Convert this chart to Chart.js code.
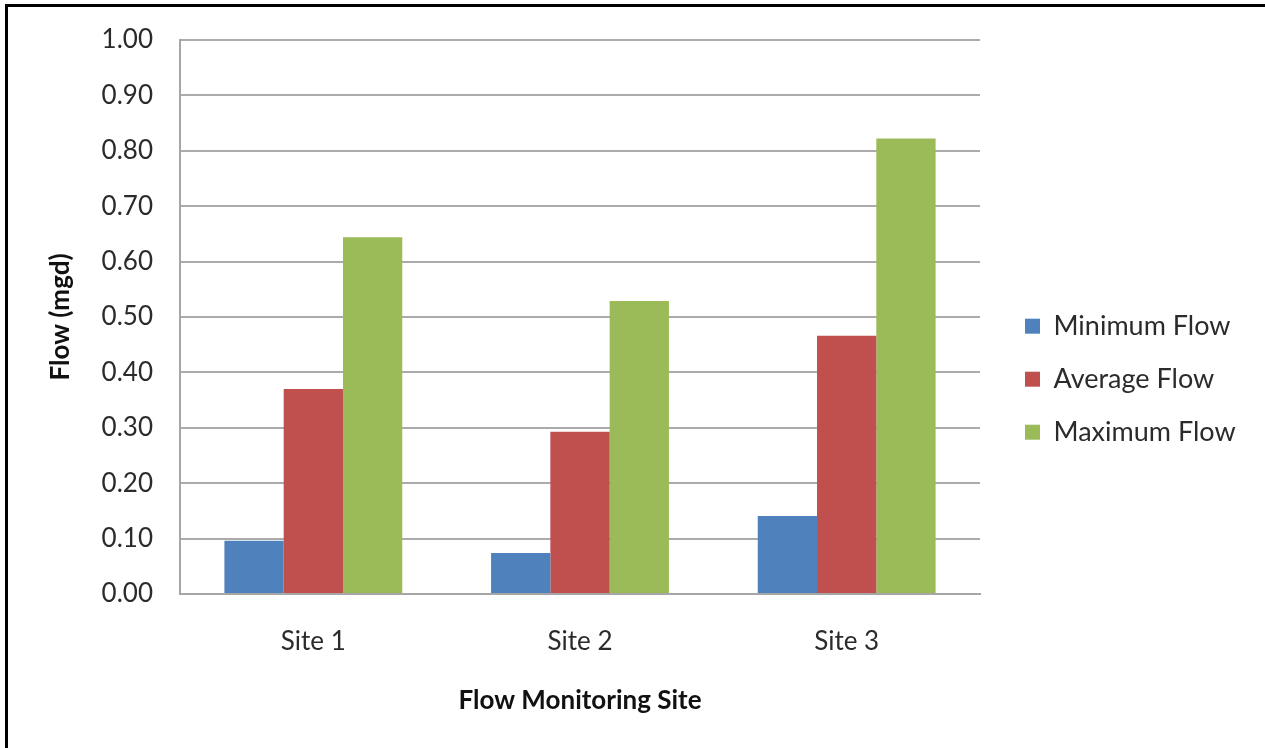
<!DOCTYPE html>
<html>
<head>
<meta charset="utf-8">
<script src="https://cdn.jsdelivr.net/npm/chart.js@4/dist/chart.umd.min.js"></script>
<style>
  html, body { margin: 0; padding: 0; background: #fff; overflow: hidden; }
  #wrap { position: relative; width: 1265px; height: 748px; }
  #frame { position: absolute; left: 5px; top: 4px; width: 1300px; height: 800px;
           border-left: 3px solid #000; border-top: 3px solid #000; pointer-events: none; }
</style>
</head>
<body>
<div id="wrap">
  <canvas id="flowChart" width="1265" height="748"></canvas>
  <div id="frame"></div>
</div>
<script>
// --- datos del grafico ---
const sites = ['Site 1', 'Site 2', 'Site 3'];
const minimumFlow = [0.096, 0.074, 0.141];
const averageFlow = [0.370, 0.293, 0.466];
const maximumFlow = [0.644, 0.529, 0.822];
const yTicks = [0, 0.1, 0.2, 0.3, 0.4, 0.5, 0.6, 0.7, 0.8, 0.9, 1.0];

const fontFam = 'Lato, "DejaVu Sans", sans-serif';

function dibujarGrafico() {
    const ctx = document.getElementById('flowChart').getContext('2d');

    const flowChart = new Chart(ctx, {
        type: 'bar',
        data: {
            labels: sites,
            datasets: [
                { label: 'Minimum Flow', data: minimumFlow, backgroundColor: '#4F81BD' },
                { label: 'Average Flow', data: averageFlow, backgroundColor: '#C0504D' },
                { label: 'Maximum Flow', data: maximumFlow, backgroundColor: '#9BBB59' }
            ]
        },
        options: {
            responsive: false,
            animation: false,
            layout: { padding: { top: 40, right: 0, bottom: 0, left: 0 } },
            datasets: { bar: { categoryPercentage: 0.667, barPercentage: 1.0 } },
            scales: {
                x: {
                    grid: { display: false },
                    border: { display: true, color: '#a6a6a6', width: 2 },
                    ticks: { color: '#2b2b2b', padding: 24, font: { family: fontFam, size: 26 } },
                    title: {
                        display: true,
                        text: 'Flow Monitoring Site',
                        color: '#111',
                        padding: { top: 0, bottom: 32 },
                        font: { family: fontFam, size: 26, weight: 'bold' }
                    },
                    afterFit: (scale) => { scale.height = 154; }
                },
                y: {
                    min: 0,
                    max: 1,
                    afterBuildTicks: (scale) => { scale.ticks = yTicks.map(v => ({ value: v })); },
                    // marcas invisibles: separan las etiquetas del eje sin empujar el area hacia abajo
                    grid: { color: '#ababab', lineWidth: 2, drawTicks: true, tickLength: 24, tickColor: 'rgba(0,0,0,0)' },
                    border: { display: true, color: '#a6a6a6', width: 2 },
                    ticks: {
                        color: '#2b2b2b',
                        padding: 3,
                        font: { family: fontFam, size: 26 },
                        callback: (value) => Number(value).toFixed(2)
                    },
                    title: {
                        display: true,
                        text: 'Flow (mgd)',
                        color: '#111',
                        padding: { top: 45, bottom: 0 },
                        font: { family: fontFam, size: 26, weight: 'bold' }
                    },
                    afterFit: (scale) => { scale.width = 180; }
                },
                // espacio vacio entre el area del grafico y la leyenda
                gap: {
                    position: 'right',
                    display: true,
                    grid: { display: false },
                    border: { display: false },
                    ticks: { display: false },
                    afterFit: (scale) => { scale.width = 19; }
                }
            },
            plugins: {
                legend: {
                    position: 'right',
                    fullSize: false,
                    title: { display: true, text: '', padding: { top: 110, bottom: 0 } },
                    labels: {
                        boxWidth: 15,
                        boxHeight: 15,
                        padding: 26,
                        color: '#2b2b2b',
                        font: { family: fontFam, size: 27 }
                    }
                },
                tooltip: { enabled: false }
            }
        }
    });

    // ancho fijo de la leyenda para que el area del grafico termine en x=980
    const legendFit = flowChart.legend.fit;
    flowChart.legend.fit = function () {
        legendFit.call(this);
        this.width = 266;
    };
    flowChart.update();
}

document.addEventListener('DOMContentLoaded', () => {
    Promise.all([
        document.fonts.load('26px Lato'),
        document.fonts.load('bold 26px Lato')
    ]).catch(() => {}).then(dibujarGrafico);
});
</script>
</body>
</html>
